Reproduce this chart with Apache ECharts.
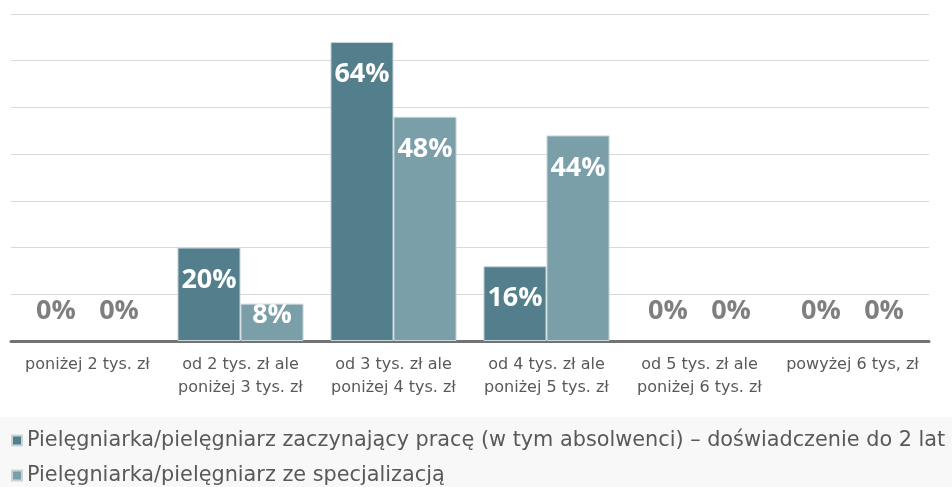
<!DOCTYPE html>
<html>
<head>
<meta charset="utf-8">
<script src="https://cdn.jsdelivr.net/npm/echarts@6/dist/echarts.min.js"></script>
<style>
  html, body { margin: 0; padding: 0; background: #fff; }
  #chart { width: 952px; height: 487px; }
</style>
</head>
<body>
<div id="chart"></div>
<script>
// data
var categories = [
  'poniżej 2 tys. zł',
  'od 2 tys. zł ale\nponiżej 3 tys. zł',
  'od 3 tys. zł ale\nponiżej 4 tys. zł',
  'od 4 tys. zł ale\nponiżej 5 tys. zł',
  'od 5 tys. zł ale\nponiżej 6 tys. zł',
  'powyżej 6 tys, zł'
]
var startValues = [0, 20, 64, 16, 0, 0]
var specValues = [0, 8, 48, 44, 0, 0]
var seriesNames = [
  'Pielęgniarka/pielęgniarz zaczynający pracę (w tym absolwenci) – doświadczenie do 2 lat',
  'Pielęgniarka/pielęgniarz ze specjalizacją'
]
var colors = ['#527f8b', '#7b9fa9']

var labelFont = '"Open Sans", sans-serif'
var textFont = '"DejaVu Sans", sans-serif'

// label placement like the excel original: zeros sit above the axis in grey,
// short bars get the label at the top edge, the rest inside near the top
function toData(values) {
  return values.map(function (v) {
    var label, style
    if (v === 0) {
      label = { position: 'top', distance: 16, color: '#7f7f7f' }
      style = { borderWidth: 0 }
    } else if (v < 10) {
      label = { position: 'insideTop', distance: -2, color: '#fff' }
    } else {
      label = { position: 'insideTop', distance: 19, color: '#fff' }
    }
    return { value: v, label: label, itemStyle: style }
  })
}

function makeSeries(name, values, color) {
  return {
    name: name,
    type: 'bar',
    barGap: '0%',
    barCategoryGap: '17.6%',
    itemStyle: { color: color, borderColor: '#c8d5d9', borderWidth: 1 },
    label: {
      show: true,
      formatter: '{c}%',
      fontFamily: labelFont,
      fontWeight: 'bold',
      fontSize: 27
    },
    data: toData(values)
  }
}

var chart = echarts.init(document.getElementById('chart'))
chart.setOption({
  animation: false,
  color: colors,
  graphic: [{
    type: 'rect',
    left: 0,
    top: 417,
    shape: { width: 952, height: 70 },
    style: { fill: '#f8f8f8' },
    z: -10
  }],
  grid: { left: 11, right: 23, top: 14, bottom: 146 },
  legend: {
    orient: 'vertical',
    left: 11,
    top: 430,
    padding: 0,
    icon: 'rect',
    itemWidth: 10,
    itemHeight: 10,
    itemGap: 14,
    textStyle: { fontFamily: textFont, fontSize: 20.8, lineHeight: 20, color: '#595959' },
    data: seriesNames
  },
  xAxis: {
    type: 'category',
    data: categories,
    axisLine: { lineStyle: { color: '#737373', width: 3 } },
    axisTick: { show: false },
    axisLabel: {
      margin: 12,
      fontFamily: textFont,
      fontSize: 16,
      lineHeight: 23,
      color: '#595959',
      interval: 0
    }
  },
  yAxis: {
    type: 'value',
    min: 0,
    max: 70,
    interval: 10,
    axisLabel: { show: false },
    axisLine: { show: false },
    axisTick: { show: false },
    splitLine: { lineStyle: { color: '#d9d9d9', width: 1 } }
  },
  series: [
    makeSeries(seriesNames[0], startValues, colors[0]),
    makeSeries(seriesNames[1], specValues, colors[1])
  ]
})
</script>
</body>
</html>
